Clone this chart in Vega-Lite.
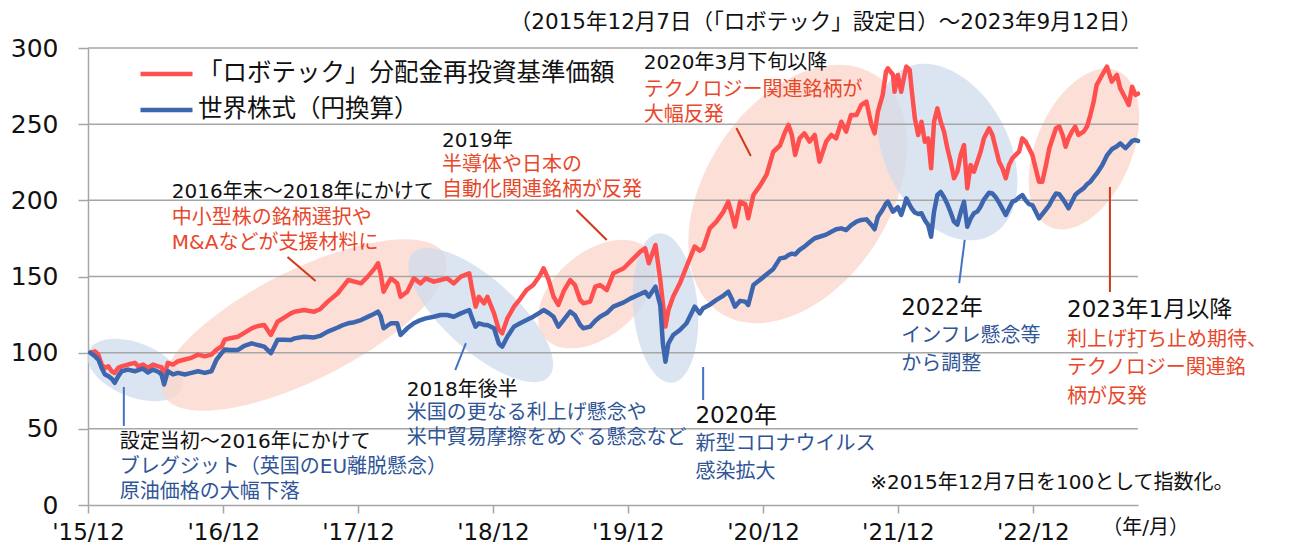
{
  "$schema": "https://vega.github.io/schema/vega-lite/v6.json",
  "width": 1050,
  "height": 457,
  "autosize": "none",
  "padding": {"left": 88, "top": 48, "right": 152, "bottom": 46},
  "background": "white",
  "config": {"view": {"stroke": null}, "font": "DejaVu Sans, Noto Sans CJK JP"},
  "datasets": {
    "series": [
      {"d":"2015-12-07","a":100,"b":100},
      {"d":"2015-12-20","a":100.9,"b":97.6},
      {"d":"2015-12-29","a":98.7,"b":95.5},
      {"d":"2016-01-07","a":92.2,"b":90},
      {"d":"2016-01-16","a":90,"b":85.7},
      {"d":"2016-01-25","a":91,"b":84.6},
      {"d":"2016-02-03","a":87.8,"b":83},
      {"d":"2016-02-11","a":86.7,"b":80.2},
      {"d":"2016-02-21","a":90,"b":84.6},
      {"d":"2016-03-01","a":91,"b":87.8},
      {"d":"2016-03-18","a":92.2,"b":88.9},
      {"d":"2016-04-06","a":93.3,"b":87.8},
      {"d":"2016-04-15","a":91,"b":88.5},
      {"d":"2016-04-28","a":92.2,"b":89.5},
      {"d":"2016-05-11","a":90,"b":87},
      {"d":"2016-05-25","a":92.2,"b":88.9},
      {"d":"2016-06-08","a":91,"b":87.5},
      {"d":"2016-06-17","a":90.5,"b":85.7},
      {"d":"2016-06-24","a":84.6,"b":79.1},
      {"d":"2016-07-04","a":93.3,"b":87.8},
      {"d":"2016-07-18","a":92.2,"b":85.7},
      {"d":"2016-08-01","a":94.4,"b":86.7},
      {"d":"2016-08-19","a":95.5,"b":85.7},
      {"d":"2016-09-06","a":96.6,"b":86.7},
      {"d":"2016-09-24","a":98.7,"b":87.8},
      {"d":"2016-10-12","a":97.6,"b":86.7},
      {"d":"2016-10-30","a":98.7,"b":87.8},
      {"d":"2016-11-13","a":102,"b":95.5},
      {"d":"2016-11-27","a":104.2,"b":99.9},
      {"d":"2016-12-05","a":108.5,"b":102},
      {"d":"2016-12-20","a":109.5,"b":101.8},
      {"d":"2017-01-10","a":110.5,"b":101.8},
      {"d":"2017-01-27","a":113,"b":104.5},
      {"d":"2017-02-16","a":116,"b":106.1},
      {"d":"2017-03-05","a":117.5,"b":105},
      {"d":"2017-03-22","a":118.2,"b":104},
      {"d":"2017-04-09","a":111.6,"b":99.6},
      {"d":"2017-04-27","a":120.3,"b":108.5},
      {"d":"2017-05-15","a":123,"b":108.5},
      {"d":"2017-06-02","a":125.8,"b":108.3},
      {"d":"2017-06-12","a":126.9,"b":109.4},
      {"d":"2017-07-08","a":128,"b":110.5},
      {"d":"2017-08-04","a":126.9,"b":110},
      {"d":"2017-08-20","a":128.5,"b":111},
      {"d":"2017-09-10","a":133.5,"b":113.8},
      {"d":"2017-10-07","a":139,"b":116.5},
      {"d":"2017-10-20","a":143,"b":118},
      {"d":"2017-11-04","a":147.7,"b":119.3},
      {"d":"2017-11-21","a":146.6,"b":120},
      {"d":"2017-12-09","a":145.5,"b":121.4},
      {"d":"2017-12-27","a":149.9,"b":123.5},
      {"d":"2018-01-14","a":155,"b":125.5},
      {"d":"2018-01-24","a":158.7,"b":126.9},
      {"d":"2018-01-31","a":152.1,"b":124},
      {"d":"2018-02-08","a":140,"b":116},
      {"d":"2018-02-20","a":145.5,"b":118},
      {"d":"2018-02-28","a":148.8,"b":119.3},
      {"d":"2018-03-17","a":145.5,"b":119.3},
      {"d":"2018-03-26","a":136.7,"b":111.6},
      {"d":"2018-04-13","a":140,"b":116},
      {"d":"2018-05-01","a":148.8,"b":119.3},
      {"d":"2018-05-19","a":145.5,"b":121.4},
      {"d":"2018-06-02","a":148.8,"b":122.5},
      {"d":"2018-06-24","a":146.6,"b":123.6},
      {"d":"2018-07-12","a":147.7,"b":124.7},
      {"d":"2018-07-30","a":148.8,"b":124.7},
      {"d":"2018-08-17","a":145.5,"b":123.6},
      {"d":"2018-09-05","a":149.9,"b":125.8},
      {"d":"2018-09-28","a":152.1,"b":128},
      {"d":"2018-10-06","a":141.1,"b":122.5},
      {"d":"2018-10-15","a":130.2,"b":117},
      {"d":"2018-10-24","a":136.7,"b":119.3},
      {"d":"2018-11-07","a":132.4,"b":118.2},
      {"d":"2018-11-16","a":136.7,"b":118.2},
      {"d":"2018-12-04","a":125.8,"b":116},
      {"d":"2018-12-17","a":115,"b":106},
      {"d":"2018-12-26","a":112.7,"b":103.9},
      {"d":"2019-01-09","a":122.5,"b":110.5},
      {"d":"2019-01-27","a":130.2,"b":117.1},
      {"d":"2019-02-14","a":135.7,"b":119.5},
      {"d":"2019-03-02","a":141.1,"b":121.4},
      {"d":"2019-03-20","a":144.4,"b":123.6},
      {"d":"2019-04-08","a":151,"b":126.5},
      {"d":"2019-04-17","a":155.4,"b":128},
      {"d":"2019-05-01","a":147.7,"b":126},
      {"d":"2019-05-14","a":136.8,"b":123.6},
      {"d":"2019-05-27","a":131.3,"b":117.1},
      {"d":"2019-06-10","a":140,"b":121.4},
      {"d":"2019-06-28","a":147.7,"b":127},
      {"d":"2019-07-11","a":144.4,"b":124.5},
      {"d":"2019-07-25","a":134.6,"b":118.2},
      {"d":"2019-08-03","a":132.4,"b":116},
      {"d":"2019-08-21","a":133.5,"b":117.1},
      {"d":"2019-09-04","a":143.3,"b":121},
      {"d":"2019-09-17","a":144.4,"b":123.6},
      {"d":"2019-10-05","a":141.1,"b":126},
      {"d":"2019-10-23","a":152.1,"b":130.2},
      {"d":"2019-11-20","a":155.4,"b":133},
      {"d":"2019-12-12","a":160.8,"b":136},
      {"d":"2020-01-04","a":166.3,"b":138.5},
      {"d":"2020-01-17","a":168.5,"b":140},
      {"d":"2020-01-27","a":158.7,"b":136.8},
      {"d":"2020-02-14","a":170.7,"b":143.3},
      {"d":"2020-02-27","a":147.7,"b":131},
      {"d":"2020-03-05","a":132.4,"b":106.1},
      {"d":"2020-03-12","a":117.1,"b":94.1},
      {"d":"2020-03-20","a":128,"b":106.1},
      {"d":"2020-04-02","a":136.8,"b":111.6},
      {"d":"2020-04-20","a":145.5,"b":114.9},
      {"d":"2020-05-08","a":156.5,"b":119.3},
      {"d":"2020-05-30","a":169.6,"b":130.2},
      {"d":"2020-06-13","a":167,"b":125.8},
      {"d":"2020-06-22","a":168.5,"b":129.1},
      {"d":"2020-07-10","a":181.6,"b":131.5},
      {"d":"2020-07-28","a":186,"b":134.6},
      {"d":"2020-08-16","a":192.6,"b":137.5},
      {"d":"2020-08-29","a":199.1,"b":140},
      {"d":"2020-09-08","a":190.4,"b":135},
      {"d":"2020-09-16","a":182.7,"b":130.2},
      {"d":"2020-09-30","a":199.1,"b":134},
      {"d":"2020-10-14","a":197.5,"b":133.5},
      {"d":"2020-10-22","a":188.2,"b":131.3},
      {"d":"2020-11-05","a":203.5,"b":144.4},
      {"d":"2020-11-24","a":210,"b":148},
      {"d":"2020-12-11","a":217,"b":151.5},
      {"d":"2020-12-29","a":231.9,"b":155},
      {"d":"2021-01-16","a":236,"b":161.9},
      {"d":"2021-01-30","a":245.1,"b":162.5},
      {"d":"2021-02-08","a":249.5,"b":164.1},
      {"d":"2021-02-17","a":242.9,"b":165},
      {"d":"2021-02-26","a":229.8,"b":164.5},
      {"d":"2021-03-10","a":240.7,"b":167.5},
      {"d":"2021-03-23","a":244,"b":169.6},
      {"d":"2021-04-06","a":238.5,"b":172.5},
      {"d":"2021-04-20","a":242.9,"b":175.1},
      {"d":"2021-05-03","a":225.4,"b":176.1},
      {"d":"2021-05-21","a":238.5,"b":177.5},
      {"d":"2021-06-04","a":242.9,"b":179.4},
      {"d":"2021-06-17","a":240.7,"b":181},
      {"d":"2021-07-01","a":251.6,"b":181.6},
      {"d":"2021-07-14","a":245.1,"b":180.5},
      {"d":"2021-07-27","a":256,"b":183.5},
      {"d":"2021-08-11","a":256,"b":186},
      {"d":"2021-08-24","a":262.6,"b":187.1},
      {"d":"2021-09-07","a":264.8,"b":187.5},
      {"d":"2021-09-20","a":250,"b":184},
      {"d":"2021-09-29","a":244,"b":181},
      {"d":"2021-10-08","a":258.2,"b":189.3},
      {"d":"2021-10-21","a":269.2,"b":194},
      {"d":"2021-10-30","a":284.5,"b":198},
      {"d":"2021-11-04","a":286.7,"b":199.1},
      {"d":"2021-11-18","a":282.3,"b":192.6},
      {"d":"2021-11-22","a":271.3,"b":193.5},
      {"d":"2021-12-01","a":282.3,"b":195.5},
      {"d":"2021-12-10","a":271.3,"b":190.4},
      {"d":"2021-12-19","a":282.3,"b":197},
      {"d":"2021-12-24","a":287.8,"b":201.3},
      {"d":"2022-01-02","a":285.6,"b":197},
      {"d":"2022-01-07","a":273.5,"b":194.8},
      {"d":"2022-01-16","a":253.8,"b":192},
      {"d":"2022-01-25","a":242.9,"b":191},
      {"d":"2022-02-03","a":251.6,"b":191.5},
      {"d":"2022-02-12","a":238.5,"b":187},
      {"d":"2022-02-21","a":240.7,"b":183.8},
      {"d":"2022-03-01","a":221,"b":176.1},
      {"d":"2022-03-09","a":251.6,"b":192.6},
      {"d":"2022-03-18","a":260.4,"b":203.5},
      {"d":"2022-03-27","a":251.6,"b":205.5},
      {"d":"2022-04-05","a":245.1,"b":202},
      {"d":"2022-04-14","a":234.2,"b":197.5},
      {"d":"2022-04-23","a":225.4,"b":192},
      {"d":"2022-05-02","a":214.5,"b":186},
      {"d":"2022-05-11","a":218.8,"b":184},
      {"d":"2022-05-20","a":229.8,"b":192},
      {"d":"2022-05-29","a":236.3,"b":199.1},
      {"d":"2022-06-07","a":207.9,"b":182.7},
      {"d":"2022-06-16","a":223.2,"b":188},
      {"d":"2022-06-25","a":218.8,"b":191.5},
      {"d":"2022-07-04","a":225.4,"b":192.6},
      {"d":"2022-07-13","a":231.9,"b":196},
      {"d":"2022-07-22","a":240.7,"b":200.5},
      {"d":"2022-08-05","a":247.3,"b":205},
      {"d":"2022-08-14","a":242.9,"b":204.5},
      {"d":"2022-08-23","a":234.2,"b":202},
      {"d":"2022-09-01","a":225.4,"b":198.5},
      {"d":"2022-09-10","a":221,"b":194.5},
      {"d":"2022-09-19","a":214.5,"b":190.4},
      {"d":"2022-09-28","a":223.2,"b":194.8},
      {"d":"2022-10-07","a":227.6,"b":199.1},
      {"d":"2022-10-16","a":229.8,"b":200},
      {"d":"2022-10-25","a":231.9,"b":202},
      {"d":"2022-11-03","a":240.7,"b":203.5},
      {"d":"2022-11-12","a":238.5,"b":200},
      {"d":"2022-11-21","a":234.2,"b":197.5},
      {"d":"2022-11-30","a":229.8,"b":196.9},
      {"d":"2022-12-09","a":221,"b":192.6},
      {"d":"2022-12-18","a":212.2,"b":188.2},
      {"d":"2022-12-27","a":212.2,"b":191},
      {"d":"2023-01-06","a":223.2,"b":194},
      {"d":"2023-01-15","a":234.2,"b":196.9},
      {"d":"2023-01-24","a":240.7,"b":201},
      {"d":"2023-02-02","a":247.3,"b":204.5},
      {"d":"2023-02-11","a":248.4,"b":204},
      {"d":"2023-02-20","a":242.9,"b":201},
      {"d":"2023-02-28","a":235.2,"b":198},
      {"d":"2023-03-08","a":240.7,"b":194.8},
      {"d":"2023-03-17","a":245.1,"b":199.1},
      {"d":"2023-03-26","a":248.4,"b":203.5},
      {"d":"2023-04-04","a":242.9,"b":205.5},
      {"d":"2023-04-18","a":245.1,"b":208},
      {"d":"2023-04-27","a":248.4,"b":210.5},
      {"d":"2023-05-06","a":256,"b":212.2},
      {"d":"2023-05-15","a":264.8,"b":215},
      {"d":"2023-05-23","a":275.7,"b":217.5},
      {"d":"2023-06-07","a":282.3,"b":223},
      {"d":"2023-06-20","a":287.8,"b":229.5},
      {"d":"2023-07-03","a":277.9,"b":233.5},
      {"d":"2023-07-17","a":282.3,"b":235.5},
      {"d":"2023-07-26","a":273.5,"b":237.4},
      {"d":"2023-08-09","a":267,"b":234.2},
      {"d":"2023-08-18","a":262.6,"b":236.5},
      {"d":"2023-08-27","a":274.6,"b":239},
      {"d":"2023-09-05","a":269.2,"b":239.6},
      {"d":"2023-09-12","a":270,"b":239}
    ]
  },
  "layer": [
    {
      "data": {"values": [{"d":"2016-04-06","v":88.6}]},
      "mark": {"type":"point","shape":"M-1,0A1,0.54,0,1,0,1,0A1,0.54,0,1,0,-1,0Z","size":10000,"angle":22,"filled":true,"color":"#cfdcee","opacity":0.75,"strokeWidth":0},
      "encoding": {
        "x": {"field":"d","type":"temporal","title":null,"scale":{"type":"utc","domain":[{"year":2015,"month":12,"date":1,"utc":true},{"year":2023,"month":9,"date":12,"utc":true}]},
          "axis": {"values":[{"year":2015,"month":12,"date":1,"utc":true},{"year":2016,"month":12,"date":1,"utc":true},{"year":2017,"month":12,"date":1,"utc":true},{"year":2018,"month":12,"date":1,"utc":true},{"year":2019,"month":12,"date":1,"utc":true},{"year":2020,"month":12,"date":1,"utc":true},{"year":2021,"month":12,"date":1,"utc":true},{"year":2022,"month":12,"date":1,"utc":true}],
            "format":"'%y/%m","title":null,"grid":false,"labelFont":"DejaVu Sans","labelFontSize":23,"labelColor":"#111111","tickSize":8,"tickColor":"#a6a6a6","tickWidth":1.5,"domainColor":"#a6a6a6","domainWidth":1.5,"labelPadding":8,"labelOverlap":false,"labelFlush":false}},
        "y": {"field":"v","type":"quantitative","title":null,"scale":{"domain":[0,300]},
          "axis": {"values":[0,50,100,150,200,250,300],"title":null,"grid":false,"labelFont":"DejaVu Sans","labelFontSize":25,"labelColor":"#111111","tickSize":10,"tickColor":"#a6a6a6","tickWidth":1.5,"domainColor":"#a6a6a6","domainWidth":1.5,"labelPadding":20}}
      }
    },
    {
      "data": {"values": [{"d":"2017-07-08","v":118.2}]},
      "mark": {"type":"point","shape":"M-1,0A1,0.35,0,1,0,1,0A1,0.35,0,1,0,-1,0Z","size":98596,"angle":-26.6,"filled":true,"color":"#fbd5ca","opacity":0.75,"strokeWidth":0},
      "encoding": {"x":{"field":"d","type":"temporal","title":null},"y":{"field":"v","type":"quantitative","title":null}}
    },
    {
      "data": {"values": [{"d":"2018-10-29","v":124.7}]},
      "mark": {"type":"point","shape":"M-1,0A1,0.39,0,1,0,1,0A1,0.39,0,1,0,-1,0Z","size":33856,"angle":42,"filled":true,"color":"#cfdcee","opacity":0.75,"strokeWidth":0},
      "encoding": {"x":{"field":"d","type":"temporal","title":null},"y":{"field":"v","type":"quantitative","title":null}}
    },
    {
      "data": {"values": [{"d":"2019-09-08","v":138.5}]},
      "mark": {"type":"point","shape":"M-1,0A1,0.62,0,1,0,1,0A1,0.62,0,1,0,-1,0Z","size":18496,"angle":-40,"filled":true,"color":"#fbd5ca","opacity":0.75,"strokeWidth":0},
      "encoding": {"x":{"field":"d","type":"temporal","title":null},"y":{"field":"v","type":"quantitative","title":null}}
    },
    {
      "data": {"values": [{"d":"2020-03-12","v":129.3}]},
      "mark": {"type":"point","shape":"M-1,0A1,0.43,0,1,0,1,0A1,0.43,0,1,0,-1,0Z","size":22500,"angle":85,"filled":true,"color":"#cfdcee","opacity":0.75,"strokeWidth":0},
      "encoding": {"x":{"field":"d","type":"temporal","title":null},"y":{"field":"v","type":"quantitative","title":null}}
    },
    {
      "data": {"values": [{"d":"2021-03-05","v":204.2}]},
      "mark": {"type":"point","shape":"M-1,0A1,0.65,0,1,0,1,0A1,0.65,0,1,0,-1,0Z","size":80656,"angle":-57,"filled":true,"color":"#fbd5ca","opacity":0.75,"strokeWidth":0},
      "encoding": {"x":{"field":"d","type":"temporal","title":null},"y":{"field":"v","type":"quantitative","title":null}}
    },
    {
      "data": {"values": [{"d":"2022-04-14","v":231.7}]},
      "mark": {"type":"point","shape":"M-1,0A1,0.66,0,1,0,1,0A1,0.66,0,1,0,-1,0Z","size":35344,"angle":62.5,"filled":true,"color":"#cfdcee","opacity":0.75,"strokeWidth":0},
      "encoding": {"x":{"field":"d","type":"temporal","title":null},"y":{"field":"v","type":"quantitative","title":null}}
    },
    {
      "data": {"values": [{"d":"2023-04-19","v":233.7}]},
      "mark": {"type":"point","shape":"M-1,0A1,0.565,0,1,0,1,0A1,0.565,0,1,0,-1,0Z","size":28900,"angle":-67,"filled":true,"color":"#fbd5ca","opacity":0.75,"strokeWidth":0},
      "encoding": {"x":{"field":"d","type":"temporal","title":null},"y":{"field":"v","type":"quantitative","title":null}}
    },
    {
      "data": {"values": [{"g":50},{"g":100},{"g":150},{"g":200},{"g":250},{"g":300}]},
      "mark": {"type":"rule","color":"#a6a6a6","strokeWidth":1.5},
      "encoding": {"y":{"field":"g","type":"quantitative","title":null}}
    },
    {
      "data": {"values": [
        {"d":"2017-05-24","v":162.8,"d2":"2017-08-08","v2":147.0},
        {"d":"2019-07-15","v":193.7,"d2":"2019-10-05","v2":174.0},
        {"d":"2020-09-20","v":247.5,"d2":"2020-10-29","v2":229.1},
        {"d":"2023-06-28","v":208.8,"d2":"2023-06-28","v2":139.8}
      ], "format": {"parse": {"d":"date","d2":"date"}}},
      "mark": {"type":"rule","color":"#d0381a","strokeWidth":2},
      "encoding": {"x":{"field":"d","type":"temporal","title":null},"x2":{"field":"d2"},"y":{"field":"v","type":"quantitative","title":null},"y2":{"field":"v2"}}
    },
    {
      "data": {"values": [
        {"d":"2016-03-07","v":77.5,"d2":"2016-03-07","v2":51.9},
        {"d":"2018-09-19","v":106.3,"d2":"2018-08-21","v2":88.6},
        {"d":"2020-06-22","v":90.6,"d2":"2020-06-22","v2":68.9},
        {"d":"2022-05-31","v":174.0,"d2":"2022-05-16","v2":145.7}
      ], "format": {"parse": {"d":"date","d2":"date"}}},
      "mark": {"type":"rule","color":"#4472c4","strokeWidth":2},
      "encoding": {"x":{"field":"d","type":"temporal","title":null},"x2":{"field":"d2"},"y":{"field":"v","type":"quantitative","title":null},"y2":{"field":"v2"}}
    },
    {
      "data": {"name": "series"},
      "transform": [{"fold": ["a","b"], "as": ["k","v"]}],
      "mark": {"type":"line","strokeWidth":4.5,"strokeJoin":"round","strokeCap":"round"},
      "encoding": {
        "x": {"field":"d","type":"temporal","title":null},
        "y": {"field":"v","type":"quantitative","title":null},
        "color": {"field":"k","type":"nominal","scale":{"domain":["a","b"],"range":["#ff5050","#3d66ae"]},
          "legend": {"orient":"none","legendX":50,"legendY":11,"title":null,"symbolType":"stroke","symbolSize":2704,"symbolStrokeWidth":4.5,"labelFont":"Noto Sans CJK JP","labelFontSize":24.5,"labelColor":"#111111","labelLimit":700,"labelOffset":3,"rowPadding":6,"clipHeight":30,
            "labelExpr":"datum.label == 'a' ? '「ロボテック」分配金再投資基準価額' : '世界株式（円換算）'"}}
      }
    },
    {
      "data": {"values": [
        {"d":"2016-07-15","v":212.0,"t":"2016年末～2018年にかけて"},
        {"d":"2016-02-25","v":47.9,"t":"設定当初～2016年にかけて"},
        {"d":"2018-04-12","v":82.1,"t":"2018年後半"},
        {"d":"2018-07-16","v":245.5,"t":"2019年"},
        {"d":"2020-01-13","v":296.7,"t":"2020年3月下旬以降"},
        {"d":"2021-09-17","v":21.0,"t":"※2015年12月7日を100として指数化。"},
        {"d":"2023-06-07","v":-8.5,"t":"（年/月）"}
      ]},
      "mark": {"type":"text","align":"left","baseline":"top","fontSize":20,"color":"#111111"},
      "encoding": {"x":{"field":"d","type":"temporal","title":null},"y":{"field":"v","type":"quantitative","title":null},"text":{"field":"t"}}
    },
    {
      "data": {"values": [
        {"d":"2023-09-23","v":323.6,"t":"（2015年12月7日（「ロボテック」設定日）～2023年9月12日）"}
      ]},
      "mark": {"type":"text","align":"right","baseline":"top","fontSize":21.5,"color":"#111111"},
      "encoding": {"x":{"field":"d","type":"temporal","title":null},"y":{"field":"v","type":"quantitative","title":null},"text":{"field":"t"}}
    },
    {
      "data": {"values": [
        {"d":"2020-06-01","v":65.6,"t":"2020年"},
        {"d":"2021-12-10","v":136.5,"t":"2022年"},
        {"d":"2023-03-04","v":135.2,"t":"2023年1月以降"}
      ]},
      "mark": {"type":"text","align":"left","baseline":"top","fontSize":23,"color":"#111111"},
      "encoding": {"x":{"field":"d","type":"temporal","title":null},"y":{"field":"v","type":"quantitative","title":null},"text":{"field":"t"}}
    },
    {
      "data": {"values": [
        {"d":"2016-07-15","v":195.0,"t":["中小型株の銘柄選択や","M&Aなどが支援材料に"]},
        {"d":"2018-07-16","v":229.8,"t":["半導体や日本の","自動化関連銘柄が反発"]},
        {"d":"2020-01-13","v":279.0,"t":["テクノロジー関連銘柄が","大幅反発"]}
      ]},
      "mark": {"type":"text","align":"left","baseline":"top","fontSize":20,"lineHeight":25,"color":"#e8472a"},
      "encoding": {"x":{"field":"d","type":"temporal","title":null},"y":{"field":"v","type":"quantitative","title":null},"text":{"field":"t"}}
    },
    {
      "data": {"values": [
        {"d":"2023-03-04","v":115.2,"t":["利上げ打ち止め期待、","テクノロジー関連銘","柄が反発"]}
      ]},
      "mark": {"type":"text","align":"left","baseline":"top","fontSize":20,"lineHeight":28.5,"color":"#e8472a"},
      "encoding": {"x":{"field":"d","type":"temporal","title":null},"y":{"field":"v","type":"quantitative","title":null},"text":{"field":"t"}}
    },
    {
      "data": {"values": [
        {"d":"2016-02-25","v":31.5,"t":["ブレグジット（英国のEU離脱懸念）","原油価格の大幅下落"]},
        {"d":"2018-04-12","v":67.0,"t":["米国の更なる利上げ懸念や","米中貿易摩擦をめぐる懸念など"]}
      ]},
      "mark": {"type":"text","align":"left","baseline":"top","fontSize":20,"lineHeight":25,"color":"#2f5597"},
      "encoding": {"x":{"field":"d","type":"temporal","title":null},"y":{"field":"v","type":"quantitative","title":null},"text":{"field":"t"}}
    },
    {
      "data": {"values": [
        {"d":"2020-06-01","v":46.6,"t":["新型コロナウイルス","感染拡大"]},
        {"d":"2021-12-10","v":117.2,"t":["インフレ懸念等","から調整"]}
      ]},
      "mark": {"type":"text","align":"left","baseline":"top","fontSize":20,"lineHeight":28,"color":"#2f5597"},
      "encoding": {"x":{"field":"d","type":"temporal","title":null},"y":{"field":"v","type":"quantitative","title":null},"text":{"field":"t"}}
    }
  ]
}
